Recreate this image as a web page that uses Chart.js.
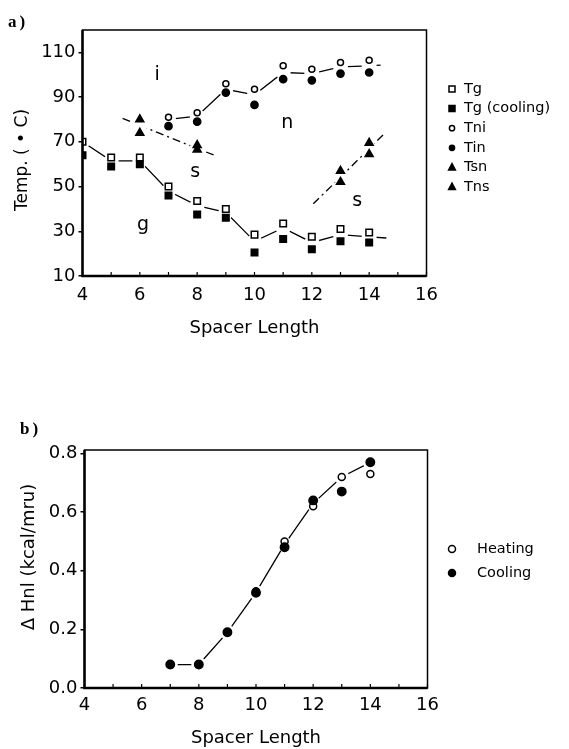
<!DOCTYPE html>
<html><head><meta charset="utf-8">
<script src="https://cdn.jsdelivr.net/npm/chart.js@4/dist/chart.umd.min.js"></script>
<style>
html,body{margin:0;padding:0;background:#fff;}
#wrap{position:relative;width:569px;height:749px;overflow:hidden;}
#c1{position:absolute;left:0;top:0;}
#c2{position:absolute;left:0;top:380px;}
</style></head><body>
<div id="wrap"><canvas id="c1" width="569" height="370"></canvas><canvas id="c2" width="569" height="369"></canvas></div>
<script>
// ---------- panel a) data ----------
const spacer    = [4, 5, 6, 7, 8, 9, 10, 11, 12, 13, 14];
const tg        = [70, 63, 63, 50, 43.5, 40, 28.5, 33.5, 27.5, 31, 29.5];
const tgCooling = [64, 59, 60, 46, 37.5, 36, 20.5, 26.5, 22, 25.5, 25];
const tnX       = [7, 8, 9, 10, 11, 12, 13, 14];
const tni       = [81, 83, 96, 93.5, 104, 102.5, 105.5, 106.5];
const tin       = [77, 79, 92, 86.5, 98, 97.5, 100.5, 101];
const tsX       = [6, 8, 13, 14];
const tsn       = [80, 68.5, 57, 69.5];
const tns       = [74, 66.5, 52, 64.5];
// hand-drawn phase boundaries
const gLineX  = [4, 5, 6, 7, 8, 9, 10, 11, 12, 13, 14, 14.6];
const gLine   = [70, 61.5, 61.5, 48, 41.5, 38.5, 25.5, 31.5, 25, 28.5, 27.5, 27];
const nLineX  = [7, 8, 9, 10, 11, 12, 13, 14, 14.4];
const nLine   = [80, 81.5, 93.5, 91, 101, 100.5, 103.5, 104, 104.3];
const s1LineX = [5.4, 6, 8, 8.6];
const s1Line  = [80.5, 77.4, 67, 64];
const s2LineX = [12.05, 13, 14, 14.5];
const s2Line  = [42.3, 54.2, 66.9, 73.3];
const xTickVals    = [4, 6, 8, 10, 12, 14, 16];
const tempTickVals = [10, 30, 50, 70, 90, 110];
const phaseText = ['i', 'n', 's', 'g', 's'];
const phaseX    = [6.6, 11.14, 7.93, 6.11, 13.58];
const phaseY    = [97.7, 76.2, 54.3, 30.6, 41.3];
// ---------- panel b) data ----------
const hX      = [7, 8, 9, 10, 11, 12, 13, 14];
const heating = [0.08, 0.08, 0.19, 0.33, 0.50, 0.62, 0.72, 0.73];
const cooling = [0.08, 0.08, 0.19, 0.325, 0.48, 0.64, 0.67, 0.77];
const hLine   = [0.08, 0.08, 0.19, 0.326, 0.49, 0.63, 0.72, 0.77];
const hTickVals = [0, 0.2, 0.4, 0.6, 0.8];

const FONT = "'DejaVu Sans', sans-serif";
function pts(xs, ys) { return xs.map((x, i) => ({x: x, y: ys[i]})); }

function markers(label, xs, ys, style, filled, r, order) {
  return {label: label, data: pts(xs, ys), showLine: false, pointStyle: style,
    pointRadius: r, pointBackgroundColor: filled ? '#000' : '#fff', pointBorderColor: '#000',
    pointBorderWidth: 1.5, order: order || 0, legend: true};
}
function trend(xs, ys, dash, gaps, gapR) {
  return {label: '', data: pts(xs, ys), showLine: true, borderColor: '#000', borderWidth: 1.3,
    borderDash: dash, tension: 0, fill: false, order: 2,
    pointRadius: ctx => gaps.includes(ctx.dataIndex) ? gapR : 0,
    pointBackgroundColor: '#fff', pointBorderColor: '#fff', pointBorderWidth: 0, legend: false};
}

function drawMarker(ctx, style, filled, x, y, r) {
  ctx.save();
  ctx.beginPath();
  if (style === 'rect') { ctx.rect(x - r, y - r, 2 * r, 2 * r); }
  else if (style === 'triangle') { ctx.moveTo(x, y - r * 1.15); ctx.lineTo(x + r, y + r * 0.75); ctx.lineTo(x - r, y + r * 0.75); ctx.closePath(); }
  else { ctx.arc(x, y, r, 0, Math.PI * 2); }
  ctx.fillStyle = filled ? '#000' : '#fff';
  ctx.fill();
  ctx.lineWidth = 1.5; ctx.strokeStyle = '#000'; ctx.stroke();
  ctx.restore();
}

const framePlugin = {
  id: 'frame',
  afterDatasetsDraw(chart) {
    const ctx = chart.ctx, a = chart.chartArea, x = chart.scales.x;
    ctx.save();
    ctx.strokeStyle = '#000';
    ctx.lineWidth = 1.5;
    ctx.strokeRect(a.left, a.top, a.right - a.left, a.bottom - a.top);
    ctx.lineWidth = 2.5;
    ctx.beginPath(); ctx.moveTo(a.left, a.top); ctx.lineTo(a.left, a.bottom); ctx.lineTo(a.right, a.bottom); ctx.stroke();
    ctx.lineWidth = 1.2;
    for (let v = Math.ceil(x.min); v <= x.max; v++) {
      const px = x.getPixelForValue(v);
      ctx.beginPath(); ctx.moveTo(px, a.bottom); ctx.lineTo(px, a.bottom - 4); ctx.stroke();
    }
    ctx.restore();
  }
};

function textPlugin(cfg) {
  return {
    id: 'texts',
    afterDraw(chart) {
      const ctx = chart.ctx, a = chart.chartArea;
      ctx.save();
      ctx.fillStyle = '#000';
      // panel letter
      ctx.font = "bold 17px 'Liberation Serif', serif";
      ctx.textAlign = 'left'; ctx.textBaseline = 'middle';
      try { ctx.letterSpacing = '3px'; } catch (e) {}
      ctx.fillText(cfg.letter, cfg.letterX, cfg.letterY);
      try { ctx.letterSpacing = '0px'; } catch (e) {}
      // x title
      ctx.font = '18px ' + FONT;
      ctx.textAlign = 'center'; ctx.textBaseline = 'middle';
      ctx.fillText(cfg.xTitle, (a.left + a.right) / 2, cfg.xTitleY);
      // y title
      ctx.save();
      ctx.font = cfg.yTitleFont;
      ctx.translate(cfg.yTitleX, cfg.yTitleY);
      ctx.rotate(-Math.PI / 2);
      ctx.fillText(cfg.yTitle, 0, 0);
      ctx.restore();
      // legend
      ctx.font = cfg.legendFont;
      ctx.textAlign = 'left'; ctx.textBaseline = 'middle';
      let i = 0;
      chart.data.datasets.forEach(ds => {
        if (!ds.legend) return;
        const y = cfg.legendY0 + i * cfg.legendStep;
        drawMarker(ctx, ds.pointStyle, ds.pointBackgroundColor === '#000', cfg.legendMX, y, cfg.legendR(ds.pointStyle));
        ctx.fillStyle = '#000';
        ctx.fillText(ds.label, cfg.legendTX, y);
        i++;
      });
      // in-plot phase labels
      if (cfg.phases) {
        ctx.font = '19px ' + FONT;
        ctx.textAlign = 'center'; ctx.textBaseline = 'alphabetic';
        phaseText.forEach((t, k) => {
          ctx.fillText(t, chart.scales.x.getPixelForValue(phaseX[k]), chart.scales.y.getPixelForValue(phaseY[k]));
        });
      }
      ctx.restore();
    }
  };
}

function baseScales(xPad, yTicks, yMin, yMax, yFmt) {
  return {
    x: {type: 'linear', min: 4, max: 16,
      afterFit: s => { s.height = 40; },
      afterBuildTicks: s => { s.ticks = xTickVals.map(v => ({value: v})); },
      grid: {display: true, drawOnChartArea: false, drawTicks: false},
      border: {display: false},
      ticks: {padding: xPad, color: '#000', font: {family: FONT, size: 18}}},
    y: {type: 'linear', min: yMin, max: yMax,
      afterFit: s => { s.width = 60; },
      afterBuildTicks: s => { s.ticks = yTicks.map(v => ({value: v})); },
      grid: {display: true, drawOnChartArea: false, drawTicks: true, tickLength: 4, color: '#000', lineWidth: 1.5},
      border: {display: false},
      ticks: {padding: 3, color: '#000', font: {family: FONT, size: 18}, callback: yFmt}}
  };
}

// ---------- chart a ----------
new Chart(document.getElementById('c1'), {
  type: 'scatter',
  data: {datasets: [
    markers('Tg', spacer, tg, 'rect', false, 4.6),
    markers('Tg (cooling)', spacer, tgCooling, 'rect', true, 4.6),
    markers('Tni', tnX, tni, 'circle', false, 3),
    markers('Tin', tnX, tin, 'circle', true, 3.6),
    markers('Tsn', tsX, tsn, 'triangle', true, 4.6),
    markers('Tns', tsX, tns, 'triangle', true, 4.6),
    trend(gLineX, gLine, [], [0,1,2,3,4,5,6,7,8,9,10], 7.5),
    trend(nLineX, nLine, [], [0,1,2,3,4,5,6,7], 7.5),
    trend(s1LineX, s1Line, [8,4,2,4], [1,2], 7.5),
    trend(s2LineX, s2Line, [8,4,2,4], [1,2], 7.5)
  ]},
  options: {
    responsive: false, animation: false, events: [],
    layout: {padding: {left: 22.5, right: 142.5, top: 30, bottom: 54}},
    plugins: {legend: {display: false}, tooltip: {enabled: false}},
    scales: baseScales(9, tempTickVals, 10, 120, v => String(v))
  },
  plugins: [framePlugin, textPlugin({
    letter: 'a)', letterX: 8, letterY: 23,
    xTitle: 'Spacer Length', xTitleY: 328,
    yTitle: 'Temp. ( \u2022 C)', yTitleFont: '17px ' + FONT, yTitleX: 23, yTitleY: 160,
    legendFont: '14.5px ' + FONT, legendY0: 89, legendStep: 19.6, legendMX: 452, legendTX: 464,
    legendR: s => s === 'rect' ? 3 : (s === 'triangle' ? 3.4 : 2.6),
    phases: true
  })]
});

// ---------- chart b ----------
new Chart(document.getElementById('c2'), {
  type: 'scatter',
  data: {datasets: [
    markers('Heating', hX, heating, 'circle', false, 3.5, 0),
    markers('Cooling', hX, cooling, 'circle', true, 4.2, -1),
    trend(hX, hLine, [], [0,1,2,3,4,5,6,7], 7.5)
  ]},
  options: {
    responsive: false, animation: false, events: [],
    layout: {padding: {left: 24.5, right: 141.5, top: 70, bottom: 21}},
    plugins: {legend: {display: false}, tooltip: {enabled: false}},
    scales: baseScales(6.5, hTickVals, 0, 0.812, v => v.toFixed(1))
  },
  plugins: [framePlugin, textPlugin({
    letter: 'b)', letterX: 20, letterY: 50,
    xTitle: 'Spacer Length', xTitleY: 358,
    yTitle: '\u0394 Hnl (kcal/mru)', yTitleFont: '18px ' + FONT, yTitleX: 29, yTitleY: 177,
    legendFont: '14.5px ' + FONT, legendY0: 169, legendStep: 24, legendMX: 452, legendTX: 477,
    legendR: s => 3.5,
    phases: false
  })]
});
</script>
</body></html>
